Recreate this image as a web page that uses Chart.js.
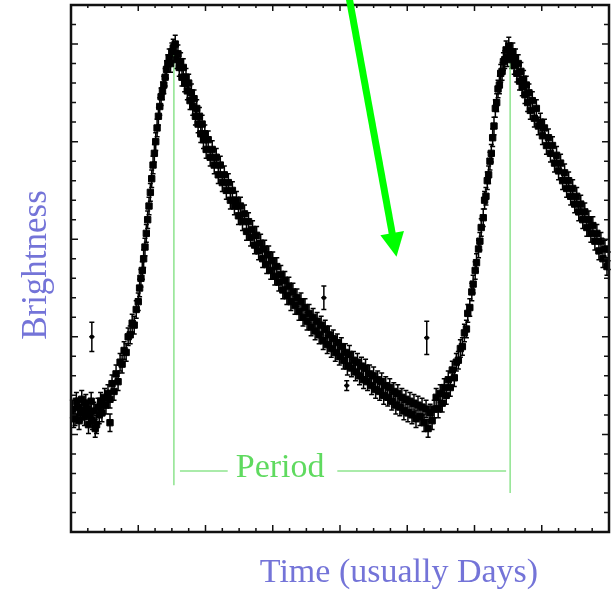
<!DOCTYPE html>
<html lang="en">
<head>
<meta charset="UTF-8">
<title>Brightness vs time</title>
<script src="https://cdn.jsdelivr.net/npm/chart.js@4.4.1/dist/chart.umd.min.js"></script>
<style>
    html, body { margin: 0; padding: 0; background: #fff; }
</style>
</head>
<body>
<canvas id="myChart" width="613" height="594"></canvas>

<script>
    // axis ranges (no tick labels on this plot)
    const dayMin = 0, dayMax = 8;
    const brightMin = 0, brightMax = 27;

    // light curve: time (days) and brightness
    const days = [
        0.02, 0.04, 0.06, 0.08, 0.10, 0.12, 0.14, 0.16, 0.18, 0.20, 0.22, 0.24, 0.26, 0.28, 0.30, 0.32, 0.34, 0.36, 0.38, 0.40, 0.42, 0.44, 0.46, 0.48, 0.50,
        0.52, 0.55, 0.58, 0.58, 0.61, 0.64, 0.67, 0.70, 0.73, 0.76, 0.79, 0.82, 0.85, 0.88, 0.91, 0.94, 0.97, 1.00, 1.02, 1.04,
        1.06, 1.08, 1.10, 1.12, 1.14, 1.16, 1.18, 1.20, 1.22, 1.24, 1.26, 1.28, 1.30, 1.32, 1.34, 1.36, 1.38, 1.40, 1.42, 1.44, 1.46, 1.48, 1.50, 1.52,
        1.55, 1.57, 1.59, 1.61, 1.63, 1.65, 1.67, 1.69, 1.71, 1.73, 1.75, 1.77, 1.79, 1.81, 1.83, 1.85, 1.87, 1.89, 1.91, 1.93,
        1.95, 1.97, 1.99, 2.01, 2.04, 2.07, 2.10, 2.13, 2.16, 2.19, 2.22, 2.25, 2.28, 2.31, 2.34, 2.37, 2.40, 2.43, 2.46, 2.49,
        2.52, 2.55, 2.58, 2.61, 2.64, 2.67, 2.70, 2.73, 2.76, 2.79, 2.82, 2.85, 2.88, 2.91, 2.94, 2.97, 3.00, 3.03, 3.06, 3.09,
        3.12, 3.15, 3.18, 3.21, 3.24, 3.27, 3.30, 3.33, 3.36, 3.39, 3.42, 3.45, 3.48, 3.51, 3.54, 3.57, 3.60, 3.63, 3.66, 3.69,
        3.72, 3.75, 3.78, 3.81, 3.84, 3.87, 3.90, 3.93, 3.96, 3.99, 4.02, 4.05, 4.08, 4.11, 4.14, 4.17, 4.20, 4.23, 4.26, 4.29,
        4.32, 4.35, 4.38, 4.41, 4.44, 4.47, 4.50, 4.53, 4.56, 4.59, 4.62, 4.65, 4.68, 4.71, 4.74, 4.77, 4.80, 4.83, 4.86, 4.89,
        4.92, 4.95, 4.98, 5.01, 5.04, 5.07, 5.10, 5.13, 5.16, 5.19, 5.22, 5.25, 5.28, 5.31, 5.34, 5.37, 5.40,
        5.43, 5.46, 5.49, 5.52, 5.55, 5.58, 5.61, 5.64, 5.67, 5.70, 5.73, 5.76, 5.79, 5.82, 5.85, 5.88, 5.90, 5.93, 5.96, 5.98,
        6.01, 6.03, 6.06, 6.08, 6.10, 6.13, 6.15, 6.17, 6.19, 6.21, 6.23, 6.25, 6.27, 6.29, 6.31, 6.33, 6.35, 6.37, 6.39, 6.41,
        6.43, 6.45, 6.47, 6.49, 6.51, 6.53,
        6.55, 6.57, 6.59, 6.61, 6.63, 6.65, 6.67, 6.69, 6.71, 6.73, 6.75, 6.77, 6.79, 6.81, 6.83, 6.86, 6.89, 6.92, 6.95, 6.98,
        7.01, 7.04, 7.07, 7.10, 7.13, 7.16, 7.19, 7.22, 7.25, 7.28, 7.31, 7.34, 7.37, 7.40, 7.43, 7.46, 7.49, 7.52, 7.55, 7.58,
        7.61, 7.64, 7.67, 7.70, 7.73, 7.76, 7.79, 7.82, 7.85, 7.88, 7.91, 7.94, 7.97, 7.99
    ];
    const brightness = [
        6.3, 5.8, 5.9, 6.7, 6.4, 5.7, 6.1, 6.8, 6.2, 5.9, 6.6, 6.3, 5.5, 6.0, 6.7, 5.7, 6.2, 5.3, 5.5, 6.4, 6.0, 6.7, 6.1, 6.5, 6.9,
        6.5, 7.1, 6.8, 5.6, 7.6, 7.2, 8.1, 7.7, 8.7, 8.6, 9.3, 9.2, 10.0, 10.1, 10.7, 10.6, 11.4, 11.8, 12.5, 13.0,
        13.4, 14.0, 14.6, 15.3, 16.0, 16.7, 17.4, 18.1, 18.8, 19.4, 20.0, 20.7, 21.3, 21.8, 22.3, 22.6, 22.9, 23.3, 23.7, 24.0, 24.3, 24.0, 24.6, 24.8,
        25.0, 24.2, 24.5, 23.8, 24.1, 23.3, 23.8, 23.0, 23.3, 22.6, 23.0, 22.1, 22.5, 21.8, 22.2, 21.3, 21.7, 20.9, 21.3, 20.4,
        20.9, 20.1, 20.4, 19.6, 20.1, 19.2, 19.6, 18.8, 19.2, 18.3, 18.8, 17.9, 18.3, 17.5, 17.9, 17.0, 17.5, 16.7, 17.0, 16.2,
        16.7, 15.9, 16.3, 15.4, 15.9, 15.1, 15.5, 14.7, 15.2, 14.4, 14.8, 14.0, 14.5, 13.7, 14.2, 13.4, 13.9, 13.1, 13.6, 12.8,
        13.2, 12.4, 12.9, 12.1, 12.6, 11.8, 12.3, 11.6, 12.0, 11.3, 11.8, 11.0, 11.5, 10.8, 11.2, 10.5, 11.0, 10.3, 10.8, 10.1,
        10.6, 9.8, 10.4, 9.6, 10.1, 9.4, 9.9, 9.2, 9.7, 9.0, 9.5, 8.8, 9.2, 8.5, 9.1, 8.4, 8.8, 8.2, 8.7, 8.0,
        8.5, 7.8, 8.4, 7.7, 8.1, 7.5, 8.0, 7.3, 7.8, 7.2, 7.7, 7.0, 7.5, 6.9, 7.4, 6.7, 7.2, 6.5, 7.1, 6.4,
        6.9, 6.2, 6.8, 6.1, 6.7, 6.0, 6.6, 5.8, 6.5, 5.9, 6.4, 5.6, 6.3, 5.3, 6.1, 5.7, 6.3,
        6.9, 6.3, 7.1, 6.6, 7.4, 7.0, 7.8, 7.4, 8.3, 7.9, 8.7, 8.8, 9.4, 9.5, 10.2, 10.4, 11.2, 11.5, 12.3, 12.7,
        13.4, 13.8, 14.5, 14.9, 15.6, 16.1, 17.0, 17.2, 18.0, 18.3, 19.0, 19.4, 20.2, 20.8, 21.7, 22.0, 22.7, 22.9, 23.5, 23.6,
        24.1, 24.2, 24.7, 24.3, 24.9, 24.6,
        24.2, 24.6, 23.9, 24.3, 23.5, 24.0, 23.1, 23.6, 22.8, 23.2, 22.4, 22.9, 22.0, 22.5, 21.6, 22.1, 21.2, 21.7, 20.8, 21.0,
        20.3, 20.7, 19.8, 20.2, 19.4, 19.8, 18.9, 19.3, 18.5, 18.9, 18.0, 18.4, 17.6, 18.0, 17.2, 17.6, 16.8, 17.2, 16.4, 16.8,
        16.0, 16.4, 15.6, 16.0, 15.3, 15.7, 14.9, 15.3, 14.4, 14.9, 14.0, 14.5, 13.6, 13.9
    ];
    const pointErrY = 0.45;
    const pointErrX = 0.035;

    // the few stray measurements with long error bars
    const strayDays = [0.31, 3.76, 4.10, 5.29];
    const strayBright = [10.0, 12.0, 7.5, 9.95];
    const strayErr = [0.75, 0.6, 0.25, 0.85];

    // "Period" marker: the two peaks and the label line
    const peakDays = [1.53, 6.53];
    const peakBright = 24.82;
    const peakLineEnd = [2.4, 2.0];
    const periodLevel = 3.13;
    const periodSegments = [[1.62, 2.33], [3.96, 6.47]];
    const periodLabel = 'Period';
    const periodLabelDay = 3.11;

    // big green arrow (in data units)
    const arrowFrom = { x: 4.14, y: 27.3 };
    const arrowTo = { x: 4.84, y: 14.1 };

    const xTitle = 'Time (usually Days)';
    const yTitle = 'Brightness';

    const serif = "'Liberation Serif', 'DejaVu Serif', serif";
    const titleBlue = '#7474d8';
    const lineGreen = '#8ee48e';

    let points = [];
    for (let i = 0; i < days.length; i++) {
        points.push({ x: days[i], y: brightness[i] });
    }
    let strays = [];
    for (let i = 0; i < strayDays.length; i++) {
        strays.push({ x: strayDays[i], y: strayBright[i] });
    }

    let periodSets = [];
    for (let i = 0; i < peakDays.length; i++) {
        periodSets.push({
            type: 'line',
            data: [{ x: peakDays[i], y: peakBright }, { x: peakDays[i], y: peakLineEnd[i] }],
            borderColor: lineGreen, borderWidth: 1.5, pointRadius: 0, order: 5
        });
    }
    for (const seg of periodSegments) {
        periodSets.push({
            type: 'line',
            data: [{ x: seg[0], y: periodLevel }, { x: seg[1], y: periodLevel }],
            borderColor: lineGreen, borderWidth: 1.5, pointRadius: 0, order: 5
        });
    }

    // draws error bars, ticks, frame, titles, label and arrow
    const extras = {
        id: 'extras',
        beforeDatasetsDraw(chart) {
            const ctx = chart.ctx;
            const xs = chart.scales.x, ys = chart.scales.y;
            ctx.save();
            ctx.strokeStyle = '#000';
            ctx.lineWidth = 1.5;
            const bar = (p, ey, ex) => {
                const px = xs.getPixelForValue(p.x), py = ys.getPixelForValue(p.y);
                const y1 = ys.getPixelForValue(p.y + ey), y2 = ys.getPixelForValue(p.y - ey);
                const x1 = xs.getPixelForValue(p.x - ex), x2 = xs.getPixelForValue(p.x + ex);
                ctx.beginPath();
                ctx.moveTo(px, y1); ctx.lineTo(px, y2);
                ctx.moveTo(x1, py); ctx.lineTo(x2, py);
                ctx.moveTo(px - 2.5, y1); ctx.lineTo(px + 2.5, y1);
                ctx.moveTo(px - 2.5, y2); ctx.lineTo(px + 2.5, y2);
                ctx.stroke();
            };
            points.forEach(p => bar(p, pointErrY, pointErrX));
            strays.forEach((p, i) => bar(p, strayErr[i], 0.04));
            ctx.restore();
        },
        afterDraw(chart) {
            const ctx = chart.ctx;
            const a = chart.chartArea;
            const xs = chart.scales.x, ys = chart.scales.y;
            ctx.save();

            // inward ticks on all four sides
            ctx.strokeStyle = '#111';
            ctx.lineWidth = 1.5;
            ctx.beginPath();
            for (let k = 0; k <= (dayMax - dayMin) * 4; k++) {
                const v = dayMin + k / 4;
                const px = xs.getPixelForValue(v);
                const len = k % 4 === 0 ? 7 : 4;
                ctx.moveTo(px, a.bottom); ctx.lineTo(px, a.bottom - len);
                ctx.moveTo(px, a.top); ctx.lineTo(px, a.top + len - 1);
            }
            for (let v = brightMin; v <= brightMax; v++) {
                const py = ys.getPixelForValue(v);
                const len = v % 5 === 0 ? 7 : 5;
                ctx.moveTo(a.left, py); ctx.lineTo(a.left + len, py);
                ctx.moveTo(a.right, py); ctx.lineTo(a.right - len, py);
            }
            ctx.stroke();

            // frame
            ctx.lineWidth = 2.5;
            ctx.strokeRect(a.left, a.top, a.right - a.left, a.bottom - a.top);

            // axis titles
            ctx.fillStyle = titleBlue;
            ctx.font = '34px ' + serif;
            ctx.textAlign = 'center';
            ctx.textBaseline = 'middle';
            ctx.fillText(xTitle, 399, 573);
            ctx.save();
            ctx.translate(37, 265);
            ctx.rotate(-Math.PI / 2);
            ctx.font = '35px ' + serif;
            ctx.fillText(yTitle, 0, 0);
            ctx.restore();

            // period label
            ctx.fillStyle = '#5fda5f';
            ctx.font = '34px ' + serif;
            ctx.fillText(periodLabel, xs.getPixelForValue(periodLabelDay), ys.getPixelForValue(periodLevel) - 3);

            // arrow
            const x0 = xs.getPixelForValue(arrowFrom.x), y0 = ys.getPixelForValue(arrowFrom.y);
            const x1 = xs.getPixelForValue(arrowTo.x), y1 = ys.getPixelForValue(arrowTo.y);
            const len = Math.hypot(x1 - x0, y1 - y0);
            const ux = (x1 - x0) / len, uy = (y1 - y0) / len;
            const headLen = 24, headHalf = 12;
            const bx = x1 - ux * headLen, by = y1 - uy * headLen;
            ctx.strokeStyle = '#00ff00';
            ctx.fillStyle = '#00ff00';
            ctx.lineWidth = 7;
            ctx.beginPath();
            ctx.moveTo(x0, y0); ctx.lineTo(bx + ux * 2, by + uy * 2);
            ctx.stroke();
            ctx.beginPath();
            ctx.moveTo(x1, y1);
            ctx.lineTo(bx - uy * headHalf, by + ux * headHalf);
            ctx.lineTo(bx + uy * headHalf, by - ux * headHalf);
            ctx.closePath();
            ctx.fill();

            ctx.restore();
        }
    };

    const ctx = document.getElementById('myChart');

    new Chart(ctx, {
        type: 'scatter',
        data: {
            datasets: [
                {
                    label: 'Brightness',
                    data: points,
                    pointStyle: 'rect',
                    pointRadius: 4.5,
                    borderColor: '#000',
                    backgroundColor: '#000',
                    borderWidth: 1,
                    order: 1
                },
                {
                    label: 'Stray points',
                    data: strays,
                    pointStyle: 'rect',
                    pointRadius: 2,
                    borderColor: '#000',
                    backgroundColor: '#000',
                    borderWidth: 1,
                    order: 1
                },
                ...periodSets
            ]
        },
        options: {
            responsive: false,
            animation: false,
            layout: { autoPadding: false, padding: { left: 71, right: 4, top: 5, bottom: 62 } },
            plugins: { legend: { display: false }, tooltip: { enabled: false } },
            scales: {
                x: { type: 'linear', display: false, min: dayMin, max: dayMax },
                y: { type: 'linear', display: false, min: brightMin, max: brightMax }
            }
        },
        plugins: [extras]
    });
</script>
</body>
</html>
